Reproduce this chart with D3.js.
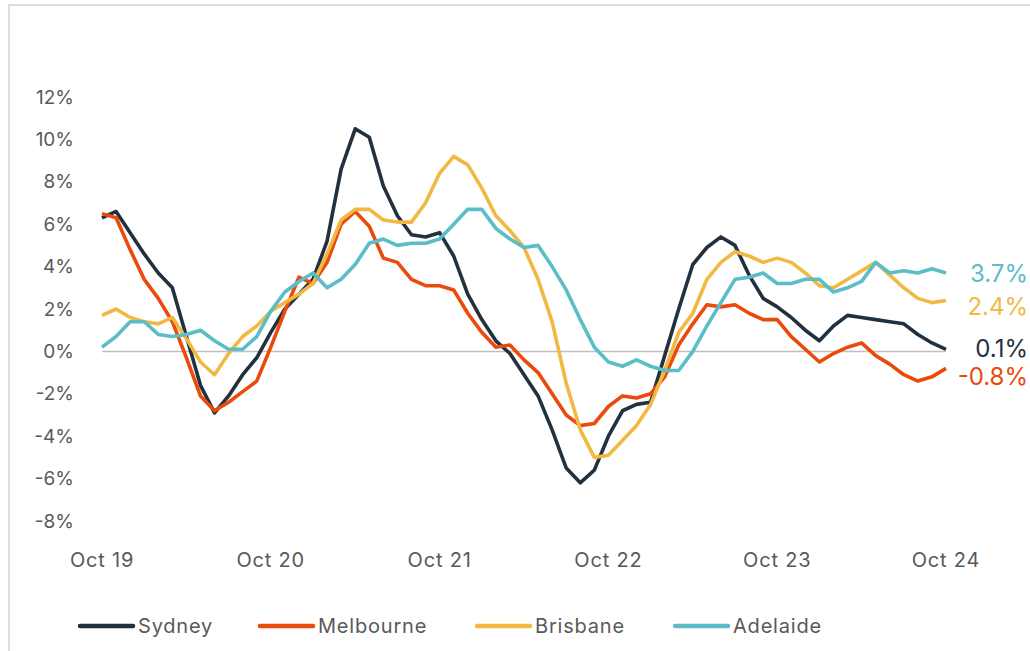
<!DOCTYPE html>
<html>
<head>
<meta charset="utf-8">
<script src="https://cdn.jsdelivr.net/npm/d3@7"></script>
<style>
  html, body { margin: 0; padding: 0; background: #fff; }
  svg { display: block; font-family: Inter, 'Noto Sans', sans-serif; }
</style>
</head>
<body>
<svg id="chart" width="1030" height="651"></svg>
<script>
// monthly annual growth, Oct 19 .. Oct 24 (61 months)
const sydney = [
  6.3, 6.6, 5.6, 4.6, 3.7, 3.0, 0.7, -1.6, -2.9, -2.1, -1.1, -0.3, 0.9,
  2.0, 2.7, 3.4, 5.2, 8.6, 10.5, 10.1, 7.8, 6.4, 5.5, 5.4, 5.6,
  4.5, 2.7, 1.5, 0.5, -0.1, -1.1, -2.1, -3.7, -5.5, -6.2, -5.6, -4.0,
  -2.8, -2.5, -2.4, -0.2, 2.0, 4.1, 4.9, 5.4, 5.0, 3.6, 2.5, 2.1,
  1.6, 1.0, 0.5, 1.2, 1.7, 1.6, 1.5, 1.4, 1.3, 0.8, 0.4, 0.1
];
const melbourne = [
  6.5, 6.3, 4.8, 3.4, 2.5, 1.4, -0.3, -2.1, -2.8, -2.4, -1.9, -1.4, 0.2,
  1.9, 3.5, 3.2, 4.2, 6.0, 6.6, 5.9, 4.4, 4.2, 3.4, 3.1, 3.1,
  2.9, 1.8, 0.9, 0.2, 0.3, -0.4, -1.0, -2.0, -3.0, -3.5, -3.4, -2.6,
  -2.1, -2.2, -2.0, -1.2, 0.3, 1.3, 2.2, 2.1, 2.2, 1.8, 1.5, 1.5,
  0.7, 0.1, -0.5, -0.1, 0.2, 0.4, -0.2, -0.6, -1.1, -1.4, -1.2, -0.8
];
const brisbane = [
  1.7, 2.0, 1.6, 1.4, 1.3, 1.6, 0.6, -0.5, -1.1, -0.1, 0.7, 1.2, 1.9,
  2.3, 2.7, 3.2, 4.6, 6.2, 6.7, 6.7, 6.2, 6.1, 6.1, 7.0, 8.4,
  9.2, 8.8, 7.7, 6.4, 5.7, 4.9, 3.4, 1.4, -1.5, -3.7, -5.0, -4.9,
  -4.2, -3.5, -2.5, -0.9, 0.9, 1.8, 3.4, 4.2, 4.7, 4.5, 4.2, 4.4,
  4.2, 3.7, 3.1, 3.0, 3.4, 3.8, 4.2, 3.6, 3.0, 2.5, 2.3, 2.4
];
const adelaide = [
  0.2, 0.7, 1.4, 1.4, 0.8, 0.7, 0.8, 1.0, 0.5, 0.1, 0.1, 0.7, 1.9,
  2.8, 3.3, 3.7, 3.0, 3.4, 4.1, 5.1, 5.3, 5.0, 5.1, 5.1, 5.3,
  6.0, 6.7, 6.7, 5.8, 5.3, 4.9, 5.0, 4.0, 2.9, 1.5, 0.2, -0.5,
  -0.7, -0.4, -0.7, -0.9, -0.9, 0.0, 1.2, 2.3, 3.4, 3.5, 3.7, 3.2,
  3.2, 3.4, 3.4, 2.8, 3.0, 3.3, 4.2, 3.7, 3.8, 3.7, 3.9, 3.7
];

const cityNames = ['Sydney', 'Melbourne', 'Brisbane', 'Adelaide'];
const cityColors = ['#22313f', '#ea4a0c', '#f1b942', '#5bbdc7'];
const endLabels = ['0.1%', '-0.8%', '2.4%', '3.7%'];
const endLabelY = [349, 377, 307, 274];

const xTickLabels = ['Oct 19', 'Oct 20', 'Oct 21', 'Oct 22', 'Oct 23', 'Oct 24'];
const yTicks = [-8, -6, -4, -2, 0, 2, 4, 6, 8, 10, 12];

const makeChart = () => {
  const svg = d3.select('#chart');
  const series = [sydney, melbourne, brisbane, adelaide];

  const x = d3.scaleLinear().domain([0, 60]).range([102, 946]);
  const y = d3.scaleLinear().domain([-8, 12]).range([521, 97]);

  // frame
  svg.append('path')
    .attr('d', 'M9,651V5H1030')
    .attr('fill', 'none')
    .attr('stroke', '#dcdcdc')
    .attr('stroke-width', 2);

  // y axis labels
  svg.append('g')
    .selectAll('text')
    .data(yTicks)
    .enter()
    .append('text')
    .attr('x', 74)
    .attr('y', d => y(d))
    .attr('dy', '0.35em')
    .attr('text-anchor', 'end')
    .attr('font-size', 19)
    .attr('fill', '#595959')
    .text(d => d + '%');

  // zero line
  svg.append('line')
    .attr('x1', x(0))
    .attr('x2', x(60))
    .attr('y1', y(0))
    .attr('y2', y(0))
    .attr('stroke', '#bfbfbf')
    .attr('stroke-width', 1.5);

  // x axis labels, one every 12 months
  svg.append('g')
    .selectAll('text')
    .data(xTickLabels)
    .enter()
    .append('text')
    .attr('x', (d, i) => x(i * 12))
    .attr('y', 560)
    .attr('dy', '0.35em')
    .attr('text-anchor', 'middle')
    .attr('font-size', 20)
    .attr('letter-spacing', 0.8)
    .attr('fill', '#595959')
    .text(d => d);

  const line = d3.line()
    .x((d, i) => x(i))
    .y(d => y(d));

  svg.append('g')
    .selectAll('path')
    .data(series)
    .enter()
    .append('path')
    .attr('d', line)
    .attr('fill', 'none')
    .attr('stroke', (d, i) => cityColors[i])
    .attr('stroke-width', 3.6)
    .attr('stroke-linejoin', 'round');

  // end value labels
  svg.append('g')
    .selectAll('text')
    .data(endLabels)
    .enter()
    .append('text')
    .attr('x', 1028)
    .attr('y', (d, i) => endLabelY[i])
    .attr('dy', '0.35em')
    .attr('text-anchor', 'end')
    .attr('font-size', 24)
    .attr('fill', (d, i) => cityColors[i])
    .text(d => d);

  // legend
  const legendX = [80, 260, 477, 675];
  const legend = svg.append('g')
    .selectAll('g')
    .data(cityNames)
    .enter()
    .append('g')
    .attr('transform', (d, i) => `translate(${legendX[i]},626)`);

  legend.append('line')
    .attr('x1', 0)
    .attr('x2', 53)
    .attr('stroke', (d, i) => cityColors[i])
    .attr('stroke-width', 4.5)
    .attr('stroke-linecap', 'round');

  legend.append('text')
    .attr('x', 58)
    .attr('dy', '0.35em')
    .attr('font-size', 20)
    .attr('letter-spacing', 0.8)
    .attr('fill', '#595959')
    .text(d => d);
};

makeChart();
</script>
</body>
</html>
